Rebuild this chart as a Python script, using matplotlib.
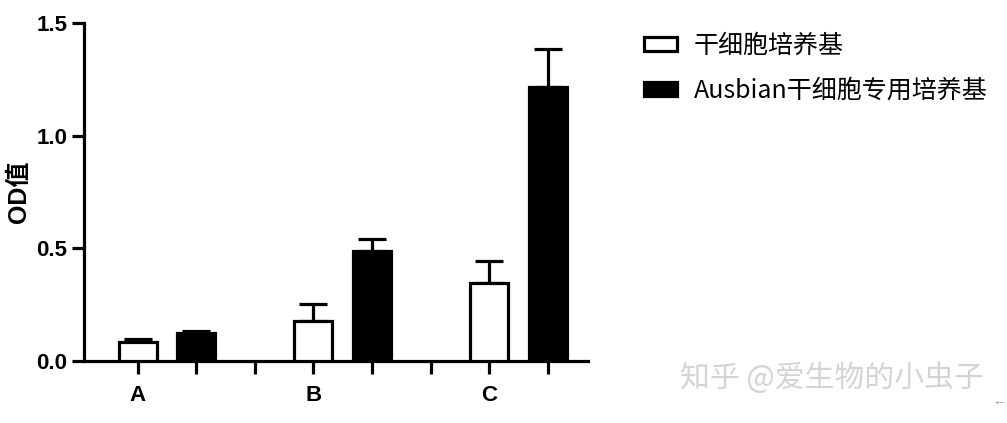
import numpy as np
import matplotlib
matplotlib.use("Agg")
import matplotlib.pyplot as plt

plt.rcParams['font.family'] = ['Liberation Sans', 'Noto Sans CJK SC', 'DejaVu Sans']

# datos
grupos = ['A', 'B', 'C']
series = ['干细胞培养基', 'Ausbian干细胞专用培养基']
media_std = [0.084, 0.178, 0.346]       # 干细胞培养基
err_std = [0.014, 0.075, 0.098]
media_ausb = [0.124, 0.488, 1.216]      # Ausbian
err_ausb = [0.009, 0.053, 0.169]

fig = plt.figure(figsize=(10.07, 4.23), dpi=100)
ax = fig.add_axes([84 / 1007, 62 / 423, 504 / 1007, 338 / 423])

lw = 2.3
x_std = np.arange(len(grupos)) * 3
x_ausb = x_std + 1
ancho = 0.65

b1 = ax.bar(x_std, media_std, ancho, color='white', edgecolor='black', linewidth=lw,
            label=series[0], zorder=3)
b2 = ax.bar(x_ausb, media_ausb, ancho, color='black', edgecolor='black', linewidth=lw,
            label=series[1], zorder=3)
# solo barra de error superior
ax.errorbar(x_std, media_std, yerr=[np.zeros(3), err_std], fmt='none', ecolor='black',
            elinewidth=lw, capsize=10, capthick=lw, zorder=2)
ax.errorbar(x_ausb, media_ausb, yerr=[np.zeros(3), err_ausb], fmt='none', ecolor='black',
            elinewidth=lw, capsize=10, capthick=lw, zorder=2)

ax.set_ylim(0, 1.5)
ax.set_xlim(-0.92, 7.69)
ax.set_yticks([0.0, 0.5, 1.0, 1.5])
ax.set_yticklabels(['0.0', '0.5', '1.0', '1.5'], fontsize=16, fontweight='bold')
ax.set_xticks(np.arange(8))
ax.set_xticklabels([''] * 8)
ax.tick_params(axis='both', direction='out', length=9, width=lw)
ax.tick_params(axis='y', pad=3)
for xi, g in zip(x_std, grupos):
    ax.text(xi, -0.105, g, ha='center', va='top', fontsize=16, fontweight='bold')

for s in ['top', 'right']:
    ax.spines[s].set_visible(False)
for s in ['left', 'bottom']:
    ax.spines[s].set_linewidth(lw)

ax.set_ylabel('OD值', fontsize=18, fontweight='bold', labelpad=4)

leg = fig.legend(handles=[b1, b2], loc='upper left', bbox_to_anchor=(644 / 1007, 1 - 33 / 423),
                 frameon=False, borderpad=0, borderaxespad=0, handlelength=1.3, handleheight=0.5,
                 handletextpad=0.7, labelspacing=0.75,
                 prop={'family': ['Noto Sans CJK SC', 'DejaVu Sans'], 'size': 18})

fig.text(680 / 1007, 1 - 378 / 423, '知乎 @爱生物的小虫子', fontsize=21.5, color='#d4d4d4',
         va='center', family=['Noto Sans CJK SC', 'DejaVu Sans'])
fig.text(992 / 1007, 1 - 401 / 423, '←', fontsize=10, color='#999999', va='center')

fig.savefig('out.png', dpi=100)
